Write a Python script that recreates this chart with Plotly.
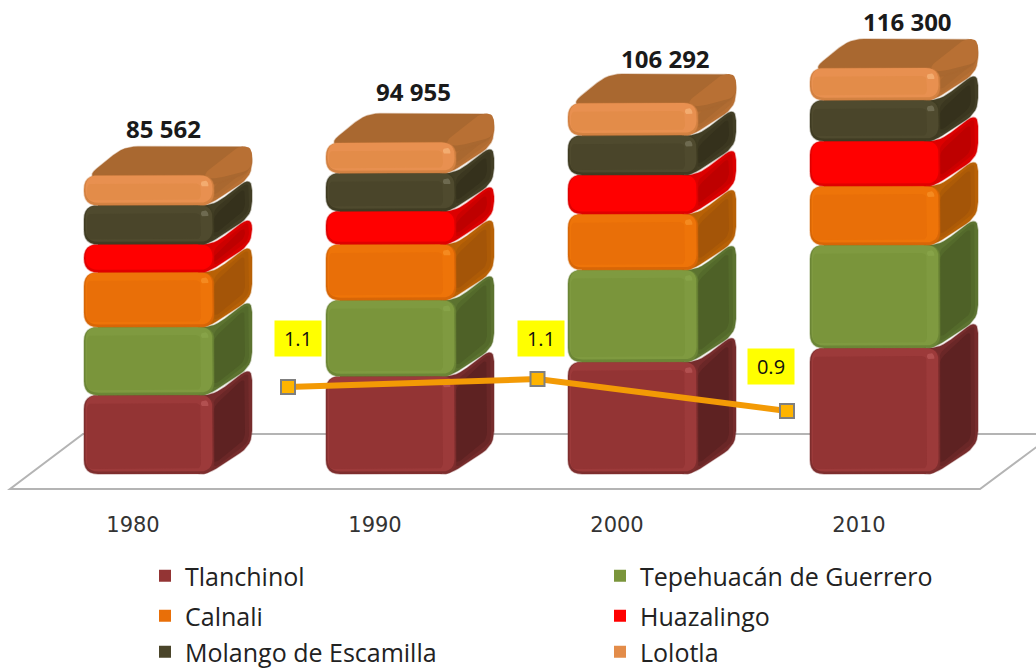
import plotly.graph_objects as go

years = ["1980", "1990", "2000", "2010"]
tlanchinol = [22600, 28000, 32100, 36100]
tepehuacan = [19500, 21800, 26400, 29500]
calnali = [15700, 16000, 16000, 16900]
huazalingo = [8000, 9500, 11200, 12900]
molango = [11200, 10900, 11300, 11700]
lolotla = [8562, 8755, 9292, 9200]
totals = [85562, 94955, 106292, 116300]
total_labels = ["85 562", "94 955", "106 292", "116 300"]
periods = ["1980-1990", "1990-2000", "2000-2010"]
growth = [1.05, 1.11, 0.87]
growth_labels = ["1.1", "1.1", "0.9"]

# name, values, main, edge, highlight, side edge, side mid, side inner, specular, legend
series = [
    ("Tlanchinol", tlanchinol, "#933434", "#7E2E2E", "#9C3A3A", "#762C2C", "#6A2727", "#5E2222", "#B25050", "legend"),
    ("Tepehuacán de Guerrero", tepehuacan, "#7A953B", "#6C8636", "#7F9A40", "#5C7330", "#546A2B", "#4E6127", "#87A348", "legend"),
    ("Calnali", calnali, "#E96F08", "#D86607", "#EE7409", "#B86106", "#AD5B07", "#A45508", "#F58A20", "legend2"),
    ("Huazalingo", huazalingo, "#FF0000", "#E00000", "#FF0000", "#DC0000", "#CC0000", "#BE0000", "#FF0000", "legend2"),
    ("Molango de Escamilla", molango, "#4A452A", "#403C23", "#4F4A2E", "#423E25", "#3B3720", "#35311C", "#6E6A50", "legend3"),
    ("Lolotla", lolotla, "#E38C49", "#D38242", "#E89050", "#B87034", "#B06C32", "#A96830", "#F3AC70", "legend3"),
]

# scales of the drawing: pixels per axis unit
PX = 242.0
PY = 0.00349
PLOT_H = 505
ZERO_Y = 474
TICK0 = 133
LEFT, RIGHT = -49, 81
DX, DY = 38, 29
RAD = 14


def rounded(pts, r, n=6):
    out = []
    m = len(pts)
    for k in range(m):
        p0, p1, p2 = pts[k - 1], pts[k], pts[(k + 1) % m]

        def toward(a, b):
            d = ((b[0] - a[0]) ** 2 + (b[1] - a[1]) ** 2) ** 0.5
            t = min(r, d / 2) / d if d else 0
            return (a[0] + (b[0] - a[0]) * t, a[1] + (b[1] - a[1]) * t)

        a, b = toward(p1, p0), toward(p1, p2)
        for j in range(n + 1):
            t = j / n
            out.append(((1 - t) ** 2 * a[0] + 2 * t * (1 - t) * p1[0] + t ** 2 * b[0],
                        (1 - t) ** 2 * a[1] + 2 * t * (1 - t) * p1[1] + t ** 2 * b[1]))
    out.append(out[0])
    return out


def poly_trace(polys, color, soft=False):
    xs, ys = [], []
    for i, v0, pts in polys:
        for ox, oy in pts:
            xs.append(i + ox / PX)
            ys.append(v0 + oy / PY)
        xs.append(None)
        ys.append(None)
    r, g, b = int(color[1:3], 16), int(color[3:5], 16), int(color[5:7], 16)
    line = dict(width=1.5, color=f"rgba({r},{g},{b},0.35)") if soft else dict(width=0, color=color)
    return go.Scatter(x=xs, y=ys, mode="lines", fill="toself", fillcolor=color,
                      line=line, hoverinfo="skip", showlegend=False)


fig = go.Figure()

# real stacked bars, carrying values and legend
for name, vals, main, edge, hi, side_edge, side_mid, side_in, spec, leg in series:
    fig.add_trace(go.Bar(
        x=list(range(len(years))), y=vals, name=name, legend=leg,
        width=(RIGHT - LEFT - 2 * RAD) / PX, offset=(LEFT + RAD) / PX,
        marker=dict(color=main, line=dict(width=0)), hoverinfo="skip",
    ))

# 3-D faces, computed from the stacked values
cum = [0] * len(years)
for s_idx, (name, vals, main, edge, hi, side_edge, side_mid, side_in, spec, leg) in enumerate(series):
    side_o, side_m, side_i, top_o, top_b, f_edge, f_hi, f_main, f_spec = [], [], [], [], [], [], [], [], []
    is_top = s_idx == len(series) - 1
    for i, v in enumerate(vals):
        b = cum[i]
        h = v * PY
        side_o.append((i, b, rounded([(RIGHT - 20, 0), (RIGHT - 6, 0), (RIGHT + DX, DY), (RIGHT + DX, h + DY),
                                      (RIGHT, h), (RIGHT - 20, h)], RAD)))
        side_m.append((i, b, rounded([(RIGHT - 1, 5), (RIGHT + DX - 3, DY + 3), (RIGHT + DX - 3, h + DY - 5),
                                      (RIGHT - 1, max(h - 5, 8))], 8)))
        side_i.append((i, b, rounded([(RIGHT - 1, 9), (RIGHT + DX - 7, DY + 5), (RIGHT + DX - 7, h + DY - 11),
                                      (RIGHT - 1, max(h - 12, 12))], 8)))
        if is_top:
            top_o.append((i, b, rounded([(LEFT + 2, h - 2), (LEFT + DX + 2, h + DY), (RIGHT + DX, h + DY),
                                         (RIGHT + DX, h + 4), (RIGHT, h - 10)], RAD)))
            top_b.append((i, b, rounded([(RIGHT - 12, h), (RIGHT + DX - 14, h + DY), (RIGHT + DX, h + DY),
                                         (RIGHT + DX, h + 6), (RIGHT, h - 4)], 9)))
        f_edge.append((i, b, rounded([(LEFT, 0), (RIGHT, 0), (RIGHT, h), (LEFT, h)], RAD)))
        f_hi.append((i, b, rounded([(LEFT + 1.5, 2.5), (RIGHT - 1.5, 2.5), (RIGHT - 1.5, h), (LEFT + 1.5, h)], RAD - 1)))
        f_main.append((i, b, rounded([(LEFT + 3, 5), (RIGHT - 13, 5), (RIGHT - 13, h - 8), (LEFT + 3, h - 8)], 6)))
        f_spec.append((i, b, rounded([(RIGHT - 13, h - 11), (RIGHT - 5, h - 11), (RIGHT - 7, h - 5), (RIGHT - 13, h - 6)], 2)))
        cum[i] += v
    fig.add_trace(poly_trace(side_o, side_edge, True))
    fig.add_trace(poly_trace(side_m, side_mid))
    fig.add_trace(poly_trace(side_i, side_in))
    if is_top:
        fig.add_trace(poly_trace(top_o, side_in, True))
        fig.add_trace(poly_trace(top_b, side_edge))
    fig.add_trace(poly_trace(f_edge, edge, True))
    fig.add_trace(poly_trace(f_hi, hi))
    fig.add_trace(poly_trace(f_main, main))
    fig.add_trace(poly_trace(f_spec, spec))

# growth line
fig.add_trace(go.Scatter(
    x=periods, y=growth, xaxis="x2", yaxis="y2", mode="lines+markers", showlegend=False,
    line=dict(color="#F39A05", width=6),
    marker=dict(symbol="square", size=14, color="#FFB400", line=dict(color="#7F7F7F", width=2)),
    hoverinfo="skip",
))

annotations = []
for i, (lab, tot, xs, ys) in enumerate(zip(total_labels, totals, [30, 38, 48, 48], [47, 51, 45, 47])):
    annotations.append(dict(x=i, y=tot, xref="x", yref="y", text=f"<b>{lab}</b>", showarrow=False,
                            xshift=xs, yshift=ys, font=dict(family="Open Sans", size=24, color="#1a1a1a")))
for p, lab, xs, ys in zip(periods, growth_labels, [10, 3, -16], [49, 41, 44]):
    annotations.append(dict(x=p, y=growth[periods.index(p)], xref="x2", yref="y2", text=lab, showarrow=False,
                            xshift=xs, yshift=ys, width=44, height=33, bgcolor="#FFFF00",
                            font=dict(family="Open Sans", size=20, color="#111111")))


def fx(px):
    return (px - TICK0) / PX


def fy(py):
    return (ZERO_Y - py) / PY


floor = (f"M{fx(10)},{fy(489)} L{fx(980)},{fy(489)} L{fx(1054)},{fy(434)} L{fx(83)},{fy(434)} Z")

legend_common = dict(orientation="h", traceorder="normal", xref="paper", yref="paper", xanchor="left", yanchor="middle",
                     x=145 / 1036, entrywidth=410, entrywidthmode="pixels", bgcolor="rgba(0,0,0,0)",
                     font=dict(family="Open Sans", size=25, color="#222222"), itemclick=False, itemdoubleclick=False)

GROW_SCALE = 133.3
fig.update_layout(
    width=1036, height=670, autosize=False, barmode="stack", bargap=0,
    paper_bgcolor="white", plot_bgcolor="white",
    margin=dict(l=0, r=0, t=0, b=670 - PLOT_H, pad=0, autoexpand=False),
    xaxis=dict(range=[fx(0), fx(1036)], tickmode="array", tickvals=list(range(len(years))), ticktext=years,
               showgrid=False, zeroline=False, showline=False, ticks="", ticklabelstandoff=5,
               tickfont=dict(family="DejaVu Sans", size=21, color="#333333")),
    yaxis=dict(range=[fy(PLOT_H), fy(0)], visible=False, fixedrange=True),
    xaxis2=dict(overlaying="x", type="category", categoryorder="array", categoryarray=periods,
                range=[-288 / 249.5, (1036 - 288) / 249.5], visible=False),
    yaxis2=dict(overlaying="y", range=[1.11 - (PLOT_H - 379) / GROW_SCALE, 1.11 + 379 / GROW_SCALE], visible=False),
    shapes=[dict(type="path", path=floor, xref="x", yref="y", layer="below",
                 line=dict(color="#B4B4B4", width=2), fillcolor="rgba(0,0,0,0)")],
    annotations=annotations,
    showlegend=True,
    legend=dict(y=(PLOT_H - 576) / PLOT_H, **legend_common),
    legend2=dict(y=(PLOT_H - 616) / PLOT_H, **legend_common),
    legend3=dict(y=(PLOT_H - 652) / PLOT_H, **legend_common),
)

fig.write_html("out.html", config={"displayModeBar": False},
               post_script="document.body.style.margin='0';")
